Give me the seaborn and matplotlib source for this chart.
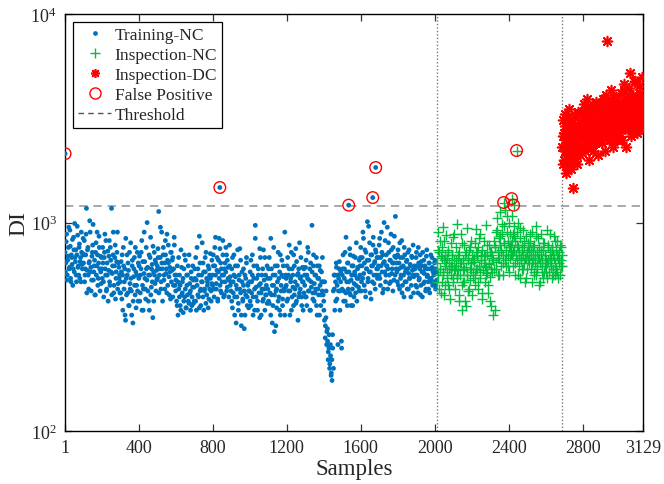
import numpy as np
import pandas as pd
import matplotlib
matplotlib.use("Agg")
import matplotlib.pyplot as plt
from matplotlib.lines import Line2D
import seaborn as sns

# ---------------- data (read/estimated from the reference) ----------------
train_range = (1, 2011)
nc_range = (2013, 2688)
dc_range = (2690, 3129)
boundaries = [2012, 2689]
threshold = 1200

train_di = [
    720, 640, 880, 560, 690, 950, 610, 770, 520, 680, 830, 600, 740, 990, 650, 560, 700, 870, 620, 760, 540, 680, 900, 630, 710,
    640, 820, 560, 700, 1170, 590, 760, 480, 650, 900, 610, 530, 720, 980, 580, 660, 450, 800, 620, 700, 540, 860, 600, 690, 510,
    600, 760, 520, 680, 880, 560, 470, 640, 730, 590, 820, 500, 660, 1170, 570, 700, 460, 620, 780, 540, 650, 900, 510, 610, 560,
    520, 650, 430, 560, 760, 480, 600, 340, 540, 700, 460, 590, 400, 510, 800, 470, 620, 330, 550, 680, 450, 580, 500, 720, 420,
    540, 690, 460, 600, 820, 500, 380, 570, 650, 480, 760, 530, 610, 420, 700, 560, 850, 490, 630, 350, 580, 720, 510, 640, 590,
    620, 750, 1130, 560, 680, 480, 900, 600, 700, 530, 640, 820, 570, 460, 660, 780, 550, 610, 430, 720, 590, 680, 500, 850, 560,
    470, 560, 400, 520, 680, 440, 500, 380, 610, 460, 540, 420, 700, 480, 390, 560, 450, 620, 410, 510, 470, 580, 400, 490, 530,
    490, 600, 420, 530, 760, 450, 560, 390, 640, 480, 520, 800, 440, 580, 470, 680, 410, 540, 500, 620, 430, 560, 710, 470, 510,
    560, 700, 480, 620, 850, 510, 590, 430, 660, 540, 750, 470, 600, 520, 820, 560, 450, 640, 580, 700, 490, 610, 530, 780, 550,
    470, 600, 390, 520, 700, 440, 550, 330, 480, 620, 410, 530, 750, 460, 360, 580, 430, 500, 310, 560, 450, 640, 400, 510, 470,
    470, 580, 400, 520, 700, 440, 540, 380, 970, 490, 620, 420, 560, 460, 750, 510, 360, 480, 600, 430, 530, 680, 450, 500, 410,
    480, 600, 410, 540, 840, 450, 330, 560, 500, 300, 620, 470, 390, 520, 720, 440, 580, 360, 500, 660, 430, 550, 470, 900, 490,
    500, 620, 430, 560, 780, 470, 540, 380, 600, 490, 700, 450, 520, 410, 650, 500, 570, 440, 800, 480, 550, 400, 610, 520, 460,
    500, 610, 440, 560, 760, 470, 530, 380, 640, 490, 580, 430, 700, 510, 460, 560, 400, 620, 480, 540, 360, 590, 450, 520, 680,
    450, 380, 520, 320, 470, 300, 270, 240, 290, 210, 230, 190, 175, 250, 200, 480, 560, 420, 610, 500, 260, 540, 650, 470, 580,
    250, 560, 700, 470, 600, 420, 850, 520, 640, 480, 580, 750, 450, 530, 620, 400, 690, 510, 560, 460, 800, 540, 610, 490, 660,
    620, 760, 520, 680, 900, 570, 640, 470, 720, 600, 1010, 540, 660, 800, 580, 430, 700, 620, 850, 510, 650, 740, 560, 680, 600,
    620, 780, 540, 680, 900, 580, 700, 480, 650, 820, 560, 620, 950, 600, 720, 510, 660, 880, 570, 640, 760, 530, 690, 1070, 600,
    580, 700, 500, 640, 800, 540, 610, 460, 680, 560, 760, 520, 600, 650, 480, 720, 570, 540, 630, 440, 690, 590, 780, 550, 620,
    560, 680, 490, 620, 760, 530, 600, 450, 650, 580, 720, 510, 570, 620, 470, 690, 550, 600, 480, 640, 540, 700, 520, 610, 580,
    560, 640, 500, 600, 530,
]

train_di_2 = [
    580, 810, 530, 660, 760, 600, 920, 540, 700, 630, 500, 850, 580, 680, 740, 520, 960, 610, 560, 790, 650, 520, 720, 600, 840,
    700, 520, 600, 880, 460, 740, 560, 640, 1020, 580, 470, 690, 780, 530, 620, 450, 720, 560, 900, 500, 640, 760, 470, 580, 680,
    540, 640, 440, 720, 600, 820, 480, 560, 420, 690, 520, 760, 580, 450, 620, 900, 500, 680, 430, 580, 720, 480, 640, 540, 460,
    460, 580, 700, 380, 620, 520, 360, 840, 450, 560, 640, 400, 720, 480, 540, 360, 660, 420, 600, 500, 760, 390, 560, 470, 640,
    620, 420, 560, 720, 380, 650, 480, 900, 540, 430, 600, 1000, 470, 560, 380, 680, 450, 600, 520, 770, 420, 560, 660, 470, 530,
    540, 680, 460, 600, 950, 520, 640, 420, 760, 560, 480, 700, 600, 880, 500, 640, 450, 580, 720, 520, 660, 440, 600, 780, 500,
    530, 420, 620, 360, 480, 560, 400, 740, 450, 520, 370, 600, 440, 660, 390, 500, 560, 420, 700, 460, 380, 540, 440, 620, 410,
    420, 540, 680, 380, 500, 600, 440, 860, 470, 400, 560, 520, 640, 380, 480, 580, 720, 450, 520, 390, 600, 480, 540, 420, 660,
    500, 620, 440, 760, 560, 480, 680, 420, 580, 840, 500, 640, 460, 560, 700, 440, 600, 520, 760, 470, 660, 540, 440, 620, 500,
    520, 420, 680, 460, 560, 360, 620, 500, 440, 740, 380, 560, 480, 660, 320, 520, 420, 600, 470, 360, 540, 680, 440, 500, 390,
    520, 420, 660, 460, 560, 360, 620, 480, 840, 440, 540, 380, 600, 500, 350, 680, 460, 560, 420, 740, 480, 380, 560, 450, 620,
    540, 420, 680, 460, 360, 600, 500, 400, 760, 450, 560, 320, 480, 620, 420, 540, 380, 700, 470, 560, 400, 620, 480, 360, 560,
    540, 420, 680, 470, 600, 360, 520, 720, 440, 560, 400, 620, 480, 750, 420, 560, 340, 600, 460, 540, 680, 440, 520, 380, 600,
    560, 440, 660, 400, 540, 720, 470, 600, 380, 520, 970, 460, 620, 420, 560, 480, 680, 360, 540, 450, 620, 500, 400, 580, 470,
    520, 420, 340, 280, 350, 260, 310, 220, 250, 200, 260, 185, 220, 290, 470, 560, 380, 520, 640, 430, 560, 470, 600, 380, 520,
    270, 480, 600, 420, 540, 720, 460, 580, 400, 640, 520, 460, 700, 400, 560, 480, 620, 440, 580, 680, 500, 420, 600, 540, 470,
    560, 680, 470, 620, 540, 840, 500, 740, 440, 600, 660, 520, 960, 580, 460, 700, 620, 520, 780, 560, 640, 480, 720, 600, 540,
    680, 560, 840, 500, 620, 720, 460, 640, 1000, 580, 520, 700, 620, 480, 800, 560, 660, 520, 740, 600, 470, 640, 860, 560, 680,
    640, 520, 740, 600, 480, 680, 560, 820, 500, 620, 440, 700, 580, 520, 660, 600, 480, 740, 540, 620, 500, 680, 560, 460, 600,
    600, 500, 720, 560, 460, 640, 540, 700, 500, 620, 440, 580, 660, 520, 600, 480, 740, 560, 520, 640, 460, 600, 540, 680, 500,
    600, 520, 660, 480, 580,
]

nc_di = [
    640, 900, 560, 720, 480, 820, 600, 690, 520, 760, 950, 580, 660, 450, 700, 620, 870, 540, 680, 500, 740, 600, 640, 430, 800, 560, 700, 620, 520, 850, 590, 660, 480,
    620, 760, 540, 980, 600, 680, 420, 720, 560, 640, 880, 500, 380, 660, 590, 780, 520, 700, 400, 610, 940, 560, 680, 470, 740, 600, 530, 820, 640, 450, 700, 580, 660,
    650, 800, 560, 720, 930, 600, 690, 480, 760, 620, 540, 880, 660, 700, 430, 740, 590, 820, 640, 520, 690, 610, 970, 570, 700, 460, 780, 630, 550, 720, 600, 400, 680,
    700, 360, 820, 600, 760, 380, 900, 650, 1050, 720, 560, 840, 680, 780, 1120, 620, 740, 880, 560, 700, 960, 800, 660, 1150, 740, 620, 900, 700, 820, 580, 1000, 760, 680,
    780, 1080, 700, 880, 620, 960, 740, 820, 560, 700, 900, 660, 760, 1000, 620, 720, 540, 840, 680, 780, 600, 920, 700, 640, 760, 520, 860, 680, 720, 600, 800, 660, 740,
    680, 820, 600, 740, 520, 900, 660, 700, 580, 780, 640, 960, 560, 720, 620, 840, 680, 500, 760, 640, 700, 880, 580, 660, 740, 540, 800, 620, 700, 660, 580, 920, 640,
    660, 780, 580, 720, 880, 620, 680, 540, 760, 600, 700, 860, 560, 640, 740, 600, 820, 580, 680, 640, 720, 560, 780, 620, 660, 700,
]

nc_di_2 = [
    520, 740, 600, 460, 680, 560, 820, 500, 640, 580, 720, 480, 620, 700, 540, 880, 600, 660,
    560, 700, 450, 640, 800, 520, 600, 420, 720, 560, 660, 480, 760, 600, 540, 680, 500,
    600, 720, 520, 840, 580, 660, 460, 700, 620, 560, 780, 500, 640, 420, 720, 580, 660,
    760, 600, 920, 680, 560, 860, 720, 980, 640, 800, 700, 1080, 620, 760, 880, 700, 820,
    720, 860, 640, 780, 560, 700, 940, 660, 740, 600, 820, 680, 540, 760, 640, 880, 700,
    640, 760, 560, 700, 860, 600, 680, 520, 740, 620, 800, 580, 700, 640, 540, 760, 660,
    620, 740, 560, 680, 820, 600, 700, 540, 660, 760, 620,
]

dc_di = [
    2300, 3100, 1900, 2700, 2200, 3300, 1720, 2500, 2900, 2100, 2600, 3500, 2000, 2800, 2400, 1800, 3000, 2300, 2650, 1470, 2200, 2950, 2500, 3200, 2100, 2700, 1900, 3400, 2400, 2600, 2800, 2250, 3000,
    2800, 3400, 2300, 3000, 2600, 3700, 2200, 2900, 3200, 2500, 3900, 2700, 3100, 2400, 2000, 3300, 2800, 3600, 2500, 3000, 2200, 2900, 3500, 2700, 3100, 2400, 3800, 2600, 3200, 2900, 2100, 3400, 2800,
    3000, 3600, 2600, 3300, 2400, 3900, 2900, 3500, 2200, 3100, 4100, 2700, 3400, 7410, 3000, 2500, 3700, 2800, 3200, 4300, 2600, 3500, 2300, 3000, 3800, 2900, 3300, 2700, 4000, 3100, 2500, 3600, 3000,
    3200, 3800, 2700, 3500, 4200, 3000, 2500, 3600, 3300, 4600, 2900, 3400, 2300, 3900, 3100, 3700, 2800, 4400, 3200, 5200, 3000, 3600, 2600, 3400, 4100, 3100, 3800, 2900, 4800, 3300, 3500, 2700, 4000, 3200, 3600, 4500, 3000, 3400, 2800, 3900, 3300, 5000, 3700, 3100,
]

dc_di_2 = [
    2600, 2000, 2900, 2400, 1850, 3200, 2200, 2700, 2050, 3000, 2500, 1950, 2800, 2300, 3300, 2600, 2100, 2900,
    2700, 3300, 2500, 3000, 2300, 3600, 2800, 3100, 2600, 3400, 2400, 2900, 3700, 2700, 3200, 2500, 3000,
    3100, 2700, 3500, 2900, 3800, 2600, 3300, 3000, 2500, 3600, 3100, 2800, 4000, 3200, 2700, 3400, 3000,
    3300, 2900, 3700, 3100, 4300, 2800, 3500, 3200, 4000, 3000, 3600, 2700, 3900, 3300, 4700, 3100, 3500, 2900, 4200, 3400, 3800, 3200,
]

fp_train_samples = [1, 838, 1535, 1665, 1681]
fp_train_di = [2140, 1473, 1212, 1318, 1837]
fp_nc_samples = [2373, 2416, 2427, 2443]
fp_nc_di = [1248, 1303, 1212, 2215]

xticks = [1, 400, 800, 1200, 1600, 2000, 2400, 2800, 3129]
yticks = [100, 1000, 10000]
ytick_labels = [r"$10^2$", r"$10^3$", r"$10^4$"]

# ---------------- style ----------------
sns.set_style("ticks")
plt.rcParams["font.family"] = ["Liberation Serif", "DejaVu Serif"]
plt.rcParams["mathtext.fontset"] = "custom"
plt.rcParams["mathtext.rm"] = "Liberation Serif"
plt.rcParams["mathtext.it"] = "Liberation Serif:italic"

c_blue = "#0072BD"
c_green = "#00BF3F"
c_red = "#FF0000"


def frame(vals, lo, hi, shift=0.0):
    return pd.DataFrame({"Samples": np.linspace(lo + shift, hi - shift, len(vals)), "DI": vals})


train_df = pd.concat([frame(train_di, *train_range), frame(train_di_2, *train_range, shift=2)])
nc_df = pd.concat([frame(nc_di, *nc_range), frame(nc_di_2, *nc_range, shift=1.5)])
dc_df = pd.concat([frame(dc_di, *dc_range), frame(dc_di_2, *dc_range, shift=1.5)])
fp_tr = pd.DataFrame({"Samples": fp_train_samples, "DI": fp_train_di})
fp_nc = pd.DataFrame({"Samples": fp_nc_samples, "DI": fp_nc_di})

fig = plt.figure(figsize=(6.64, 4.85), dpi=100)
ax = fig.add_axes([0.098, 0.109, 0.871, 0.86])
ax.set_yscale("log")

sns.scatterplot(data=train_df, x="Samples", y="DI", ax=ax, color=c_blue, s=12,
                marker="o", linewidth=0, edgecolor="none", zorder=3)
sns.scatterplot(data=fp_tr, x="Samples", y="DI", ax=ax, color=c_blue, s=12,
                marker="o", linewidth=0, edgecolor="none", zorder=3)
sns.scatterplot(data=nc_df, x="Samples", y="DI", ax=ax, color=c_green, s=55,
                marker="+", linewidth=1.0, zorder=3)
sns.scatterplot(data=fp_nc, x="Samples", y="DI", ax=ax, color=c_green, s=55,
                marker="+", linewidth=1.0, zorder=3)
sns.scatterplot(data=dc_df, x="Samples", y="DI", ax=ax, color=c_red, s=50,
                marker=(8, 2, 0), linewidth=1.2, zorder=3)

fp_all = pd.concat([fp_tr, fp_nc])
ax.scatter(fp_all["Samples"], fp_all["DI"], s=70, facecolors="none",
           edgecolors=c_red, linewidths=1.0, zorder=4)

ax.axhline(threshold, color="#9a9a9a", linestyle=(0, (5, 3.5)), linewidth=1.2, zorder=2)
for b in boundaries:
    ax.axvline(b, color="#7a7a7a", linestyle=(0, (1, 1.5)), linewidth=1.0, zorder=1)

ax.set_xlim(1, 3129)
ax.set_ylim(100, 10000)
ax.set_xticks(xticks)
ax.set_xticklabels([str(t) for t in xticks])
ax.set_yticks(yticks)
ax.set_yticklabels(ytick_labels)
ax.yaxis.set_minor_locator(matplotlib.ticker.NullLocator())
ax.tick_params(axis="both", which="major", direction="in", top=True, right=True,
               length=5, width=0.9, labelsize=13, pad=6, color="#333333")
for sp in ax.spines.values():
    sp.set_visible(True)
    sp.set_color("black")
    sp.set_linewidth(1.0)

ax.set_xlabel("Samples", fontsize=16.5, labelpad=1)
ax.set_ylabel("DI", fontsize=17, labelpad=1)

handles = [
    Line2D([], [], linestyle="none", marker="o", markersize=3.4, color=c_blue, markeredgewidth=0),
    Line2D([], [], linestyle="none", marker="+", markersize=7, color=c_green, markeredgewidth=1.0),
    Line2D([], [], linestyle="none", marker=(8, 2, 0), markersize=6.5, color=c_red, markeredgewidth=1.2),
    Line2D([], [], linestyle="none", marker="o", markersize=8, markerfacecolor="none",
           markeredgecolor=c_red, markeredgewidth=1.0),
    Line2D([], [], linestyle=(0, (4, 3)), color="#555555", linewidth=1.0),
]
labels = ["Training-NC", "Inspection-NC", "Inspection-DC", "False Positive", "Threshold"]
leg = ax.legend(handles, labels, loc="upper left", fontsize=12.5, frameon=True,
                fancybox=False, edgecolor="black", framealpha=1, handlelength=1.9,
                handletextpad=0.2, borderpad=0.3, labelspacing=0.22,
                borderaxespad=0.45)
leg.get_frame().set_linewidth(0.9)

fig.savefig("out.png", dpi=100)
